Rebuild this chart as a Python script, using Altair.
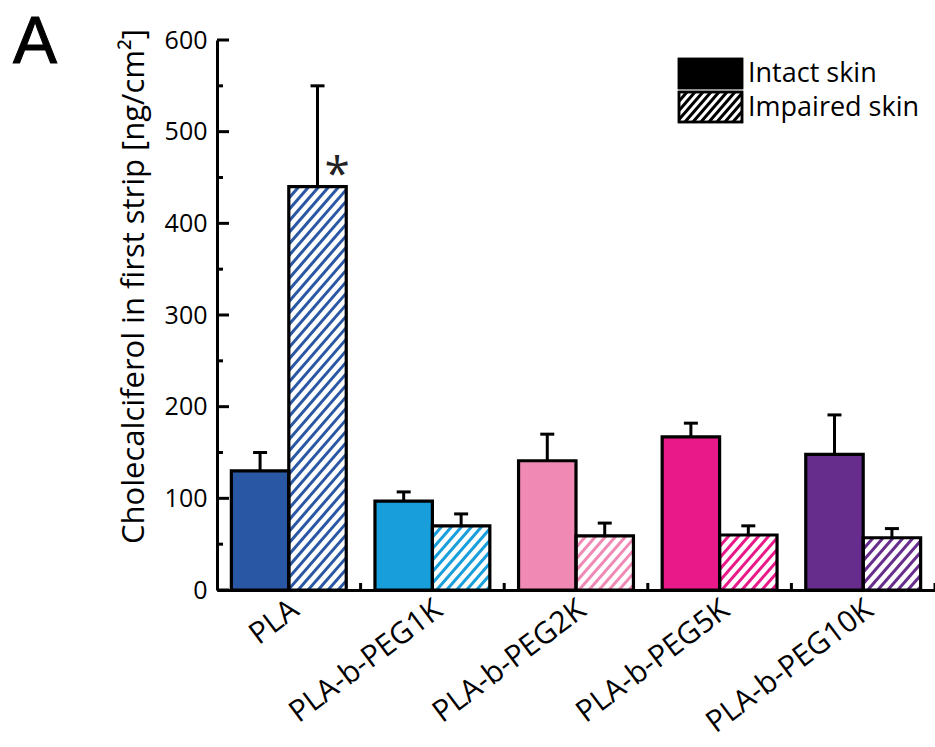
import altair as alt
import numpy as np
import pandas as pd

# ---------------- data ----------------
groups = ["PLA", "PLA-b-PEG1K", "PLA-b-PEG2K", "PLA-b-PEG5K", "PLA-b-PEG10K"]
colors = ["#2a57a4", "#189fdb", "#f08ab5", "#e9198a", "#662d8c"]
intact = [130, 97, 141, 167, 148]
intact_err = [20, 10, 29, 15, 43]
impaired = [440, 70, 59, 60, 57]
impaired_err = [110, 13, 14, 10, 10]
y_major = [0, 100, 200, 300, 400, 500, 600]
y_minor = [50, 150, 250, 350, 450, 550]
x_minor = [0.5, 1.5, 2.5, 3.5, 4.5]
legend_labels = ["Intact skin", "Impaired skin"]
signif_group = 0  # asterisk over PLA impaired skin

# ---------------- layout ----------------
W, H = 718, 550
XDOM = [-0.5, 4.5]
YDOM = [0, 600]
BAR = 0.4
PX_X = W / (XDOM[1] - XDOM[0])
PX_Y = H / (YDOM[1] - YDOM[0])
FONT = "Open Sans"

xs = alt.Scale(domain=XDOM, nice=False, zero=False)
ys = alt.Scale(domain=YDOM, nice=False)

rows = []
for i, g in enumerate(groups):
    rows.append(dict(g=g, idx=i, cond="Intact skin", x0=i - BAR, x1=i, xc=i - BAR / 2,
                     val=intact[i], top=intact[i] + intact_err[i], zero=0,
                     fill=colors[i], col=colors[i]))
    rows.append(dict(g=g, idx=i, cond="Impaired skin", x0=i, x1=i + BAR, xc=i + BAR / 2,
                     val=impaired[i], top=impaired[i] + impaired_err[i], zero=0,
                     fill="white", col=colors[i]))
bars = pd.DataFrame(rows)
bars["c0"] = bars["xc"] - 7 / PX_X
bars["c1"] = bars["xc"] + 7 / PX_X


def hatch(x0px, wpx, hpx, period, slope):
    segs = []
    c = -hpx / slope
    while c < wpx:
        u0 = max(0.0, c)
        u1 = min(wpx, c + hpx / slope)
        if u1 > u0:
            segs.append((x0px + u0, (u0 - c) * slope, x0px + u1, (u1 - c) * slope))
        c += period
    return segs


hrows = []
for r in bars[bars.cond == "Impaired skin"].itertuples():
    for (a, b, c, d) in hatch(0, BAR * PX_X, r.val * PX_Y, 10, 1.15):
        hrows.append(dict(hx=r.x0 + a / PX_X, hy=b / PX_Y, hx2=r.x0 + c / PX_X,
                          hy2=d / PX_Y, col=r.col))
hatch_df = pd.DataFrame(hrows)


def X(f):
    return alt.X(f, scale=xs)


def Y(f):
    return alt.Y(f, scale=ys)


base = alt.Chart(bars)

fill_rect = base.mark_rect().encode(
    x=alt.X("x0:Q", scale=xs,
            axis=alt.Axis(values=list(range(len(groups))),
                          labelExpr="%s[datum.value]" % str(groups),
                          title=None, tickSize=0, labelAngle=-37,
                          labelAlign="right", labelBaseline="middle",
                          labelPadding=16, labelOffset=6, labelOverlap=False,
                          labelLimit=400, labelBound=False, labelFlush=False,
                          labelFontSize=30, labelFont=FONT, labelColor="black",
                          domainColor="black", domainWidth=3, grid=False)),
    x2="x1:Q",
    y=alt.Y("val:Q", scale=ys,
            axis=alt.Axis(values=y_major, tickSize=0, labelPadding=10,
                          labelFontSize=25, labelFont=FONT, labelColor="black",
                          labelOverlap=False, labelFlush=False,
                          domainColor="black", domainWidth=3, grid=False,
                          title="Cholecalciferol in first strip [ng/cm²]",
                          titleFont=FONT, titleFontSize=31, titleFontWeight="normal",
                          titleColor="black", titleX=-74, titleY=246,
                          titleAlign="center", titleBaseline="alphabetic")),
    y2="zero:Q",
    fill=alt.Fill("fill:N", scale=None),
)

hatch_layer = alt.Chart(hatch_df).mark_rule(strokeWidth=3).encode(
    x=X("hx:Q"), y=Y("hy:Q"), x2="hx2:Q", y2="hy2:Q",
    color=alt.Color("col:N", scale=None),
)

outline = base.mark_rect(fillOpacity=0, stroke="black", strokeWidth=3.2).encode(
    x=X("x0:Q"), x2="x1:Q", y=Y("val:Q"), y2="zero:Q")

err_line = base.mark_rule(color="black", strokeWidth=3).encode(
    x=X("xc:Q"), y=Y("val:Q"), y2="top:Q")
err_cap = base.mark_rule(color="black", strokeWidth=3).encode(
    x=X("c0:Q"), x2="c1:Q", y=Y("top:Q"))

# ticks pointing inward
ymaj = alt.Chart(pd.DataFrame({"t": y_major})).mark_rule(color="black", strokeWidth=3).encode(
    y=Y("t:Q"), x=alt.value(0), x2=alt.value(12))
ymin = alt.Chart(pd.DataFrame({"t": y_minor})).mark_rule(color="black", strokeWidth=3).encode(
    y=Y("t:Q"), x=alt.value(0), x2=alt.value(6))
xmin = alt.Chart(pd.DataFrame({"t": x_minor})).mark_rule(color="black", strokeWidth=3).encode(
    x=X("t:Q"), y=alt.value(H), y2=alt.value(H - 7))

# significance asterisk
ast_df = pd.DataFrame({"x": [signif_group + 0.336], "y": [impaired[signif_group] + 12], "t": ["*"]})
ast = alt.Chart(ast_df).mark_text(font=FONT, fontSize=46, baseline="middle", align="center",
                                  color="#222").encode(
    x=X("x:Q"), y=Y("y:Q"), text="t:N")

# legend (pixel positioned)
LX0, LX1 = 462, 525
leg_box = pd.DataFrame({"lbl": legend_labels, "y0": [19, 52], "y1": [48, 82],
                        "fill": ["black", "white"], "ty": [34, 68], "tx": [531, 531]})
leg_rect = alt.Chart(leg_box).mark_rect(stroke="black", strokeWidth=2.5).encode(
    x=alt.value(LX0), x2=alt.value(LX1),
    y=alt.Y("y0:Q", scale=None), y2="y1:Q",
    fill=alt.Fill("fill:N", scale=None))
lh = []
for (a, b, c, d) in hatch(LX0, LX1 - LX0, 82 - 52, 8, 1.15):
    lh.append(dict(px=a, py=82 - b, px2=c, py2=82 - d))
leg_hatch = alt.Chart(pd.DataFrame(lh)).mark_rule(color="black", strokeWidth=3).encode(
    x=alt.X("px:Q", scale=None), x2="px2:Q",
    y=alt.Y("py:Q", scale=None), y2="py2:Q")
leg_outline = alt.Chart(leg_box).mark_rect(stroke="black", strokeWidth=2.5, fillOpacity=0).encode(
    x=alt.value(LX0), x2=alt.value(LX1),
    y=alt.Y("y0:Q", scale=None), y2="y1:Q")
leg_text = alt.Chart(leg_box).mark_text(font=FONT, fontSize=27, align="left",
                                        baseline="middle", color="black").encode(
    x=alt.X("tx:Q", scale=None), y=alt.Y("ty:Q", scale=None), text="lbl:N")

panel = alt.Chart(pd.DataFrame({"t": ["A"]})).mark_text(
    font="Liberation Sans", fontSize=66, align="left", baseline="alphabetic", color="black",
    stroke="black", strokeWidth=1).encode(
    x=alt.value(-204), y=alt.value(23), text="t:N")

chart = alt.layer(
    fill_rect, hatch_layer, outline, err_line, err_cap, ymaj, ymin, xmin, ast,
    leg_rect, leg_hatch, leg_outline, leg_text, panel
).properties(
    width=W, height=H,
    autosize=alt.AutoSizeParams(type="none"),
    padding={"left": 217, "top": 40, "right": 0, "bottom": 157},
).configure(background="white").configure_view(stroke="transparent", strokeWidth=0).configure_axis(grid=False)

chart.save("out.html", embed_options={"renderer": "svg", "actions": False})
